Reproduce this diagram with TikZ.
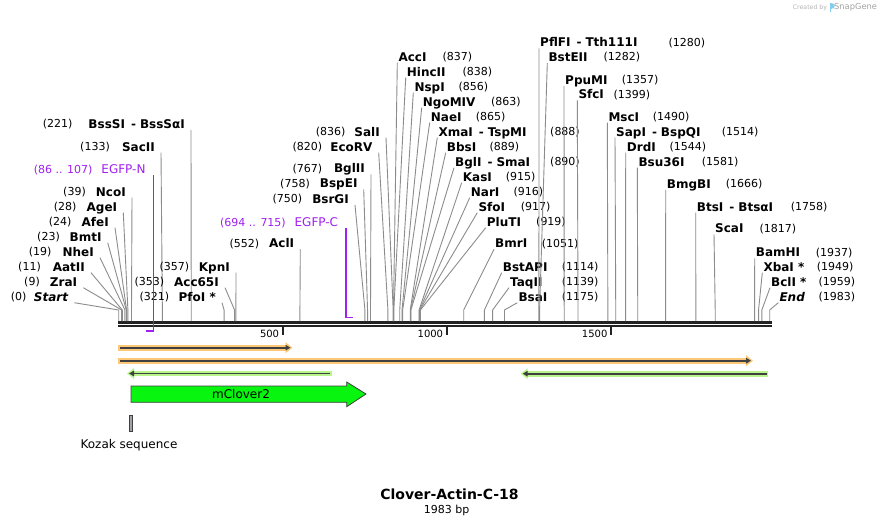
\documentclass[tikz,border=0pt]{standalone}
\usepackage{fontspec}
\setmainfont{DejaVu Sans}
\usetikzlibrary{calc,arrows.meta}
\definecolor{leadgray}{RGB}{140,140,140}
\definecolor{bbgray}{RGB}{34,34,34}
\definecolor{primerpurple}{RGB}{160,32,240}
\definecolor{orangeband}{RGB}{253,200,120}
\definecolor{greenband}{RGB}{184,245,140}
\definecolor{featdark}{RGB}{64,64,64}
\definecolor{clovergreen}{RGB}{8,245,16}
\definecolor{kozakgray}{RGB}{160,162,170}
\definecolor{markgray}{RGB}{180,180,180}
\definecolor{snapblue}{RGB}{130,205,240}
\newcommand\isosep{\hspace{6pt}-\hspace{4pt}}
\begin{document}
\begin{tikzpicture}[x=1pt,y=-1pt]
	\tikzstyle{cut}=[inner sep=0pt,text height=8.7pt,text depth=0pt,font=\fontsize{12}{14}\selectfont\bfseries]
	\tikzstyle{sitepos}=[inner sep=0pt,text height=8pt,text depth=0pt,font=\fontsize{11}{13}\selectfont]
	\tikzstyle{leader}=[draw=leadgray,line width=0.9pt]
	\tikzstyle{bbline}=[draw=bbgray,line width=2.5pt]
	\tikzstyle{scaletick}=[draw=bbgray,line width=1.6pt]
	\tikzstyle{ticklabel}=[inner sep=0pt,text height=7.3pt,text depth=0pt,font=\fontsize{10}{12}\selectfont]
	\tikzstyle{primer}=[draw=primerpurple,line width=1.3pt]
	\tikzstyle{primerlabel}=[inner sep=0pt,text height=8.7pt,text depth=0pt,text=primerpurple,font=\fontsize{12}{14}\selectfont]
	\tikzstyle{band}=[line width=5.7pt,-{Triangle[length=7pt,width=10.5pt]}]
	\tikzstyle{featline}=[draw=featdark,line width=1.7pt,-{Triangle[length=5pt,width=5.5pt]}]
	\useasboundingbox (0,0) rectangle (890,526);
	\fill[white] (0,0) rectangle (890,526);

	% backbone
	\coordinate (bbl) at (118,322.3);
	\coordinate (bbr) at (771.5,322.3);
	\coordinate (bbl2) at (118,326.2);
	\coordinate (bbr2) at (771.5,326.2);
	\draw[bbline] (bbl) -- (bbr);
	\draw[bbline] (bbl2) -- (bbr2);
	\foreach \t/\tx in {500/282.7,1000/446.7,1500/611}{
		\coordinate (tk\t) at (\tx,326.5);
		\draw[scaletick] (tk\t) -- ++(0,8.5);
		\node[ticklabel,anchor=east] (tl\t) at (\tx-3.4,334) {\t};
	}

	% sites, label on the left
	\foreach \nm/\bp/\nx/\px/\ly [count=\i] in {{\itshape Start}/0/68.3/26.7/296.7,ZraI/9/77.3/40/281.7,AatII/11/85/41/266.7,NheI/19/94/51.7/251.7,BmtI/23/101.7/60/236.7,AfeI/24/109/71.7/221.7,AgeI/28/117.3/76.7/206.7,NcoI/39/126/86/191.7,SacII/133/155/110/146.7,BssSI\isosep BssSαI/221/185/72.7/124,PfoI~*/321/216/169.3/296.7,Acc65I/353/219/164.3/281.7,KpnI/357/230/189.3/266.7,AclI/552/294.3/259.3/243.3,BsrGI/750/349/302.3/199,BspEI/758/357.7/310/183.3,BglII/767/365/322.3/168.3,EcoRV/820/372.7/322.3/146.7,SalI/836/380/345.7/131.7}{
		\pgfmathsetmacro\sx{118.7+0.3283*\bp}
		\node[cut,anchor=east] (lc\i) at (\nx,\ly) {\nm};
		\node[sitepos,anchor=east] (lp\i) at (\px,\ly) {(\bp)};
		\coordinate (ls\i) at (\sx,321);
		\draw[leader] ($(lc\i.east)+(6,6)$) -- (\sx,310) -- (ls\i);
	}

	% sites, label on the right
	\foreach \nm/\bp/\nx/\px/\ly [count=\i] in {AccI/837/398.3/442.3/56.7,HincII/838/406.7/462.3/71.7,NspI/856/414.3/458.3/86.7,NgoMIV/863/422.7/491/101.7,NaeI/865/430.7/475.7/116.7,XmaI\isosep TspMI/888/438.3/550/131.7,BbsI/889/446.7/489.3/146.7,BglI\isosep SmaI/890/455/550/161.7,KasI/915/462.7/505.7/176.7,NarI/916/470.7/513.3/191.7,SfoI/917/478.3/520.7/206.7,PluTI/919/486.7/536/221.7,BmrI/1051/495/541.7/243.3,BstAPI/1114/502.7/561.7/266.7,TaqII/1139/510/561.7/281.7,BsaI/1175/518.3/561.7/296.7,PflFI\isosep Tth111I/1280/540/668.3/42.5,BstEII/1282/548.3/603.3/57,PpuMI/1357/565/621.7/80,SfcI/1399/578.3/613.3/94.5,MscI/1490/608.3/652.7/116.7,SapI\isosep BspQI/1514/616/721.7/131.7,DrdI/1544/626.7/669.3/146.7,Bsu36I/1581/638.3/701.7/161.7,BmgBI/1666/666.7/725.7/184,BtsI\isosep BtsαI/1758/696.7/790.7/206.7,ScaI/1817/715/759.3/228.3,BamHI/1937/755.7/815.7/252.3,XbaI~*/1949/763.3/816.7/266.7,BclI~*/1959/771/818.3/281.7,{\itshape End}/1983/779.3/818.3/296.7}{
		\pgfmathsetmacro\sx{118.7+0.3283*\bp}
		\node[cut,anchor=west] (rc\i) at (\nx,\ly) {\nm};
		\node[sitepos,anchor=west] (rp\i) at (\px,\ly) {(\bp)};
		\coordinate (rs\i) at (\sx,321);
		\draw[leader] ($(rc\i.west)+(-1,6)$) -- (\sx,310) -- (rs\i);
	}

	% primers
	\node[primerlabel,anchor=east] (egfpn) at (145.7,169) {EGFP-N};
	\node[primerlabel,anchor=east,font=\fontsize{11}{13}\selectfont] (egfpnpos) at (92.7,169) {(86 .. 107)};
	\coordinate (egfpnend) at (153.3,331);
	\draw[primer] ($(egfpn.east -| egfpnend)+(0,6)$) -- (egfpnend) -- (146,331);
	\node[primerlabel,anchor=east] (egfpc) at (338.3,222.3) {EGFP-C};
	\node[primerlabel,anchor=east,font=\fontsize{11}{13}\selectfont] (egfpcpos) at (286,222.3) {(694 .. 715)};
	\coordinate (egfpcend) at (346,317.3);
	\draw[primer] ($(egfpc.east -| egfpcend)+(0,6)$) -- (egfpcend) -- (352.7,317.3);

	% features
	\coordinate (or1a) at (118,347.7);
	\coordinate (or1b) at (292.5,347.7);
	\draw[band,draw=orangeband,fill=orangeband] (or1a) -- (or1b);
	\draw[featline] ($(or1a)+(1.5,0)$) -- ($(or1b)+(-2,0)$);
	\coordinate (or2a) at (118,360.7);
	\coordinate (or2b) at (753,360.7);
	\draw[band,draw=orangeband,fill=orangeband] (or2a) -- (or2b);
	\draw[featline] ($(or2a)+(1.5,0)$) -- ($(or2b)+(-2,0)$);
	\coordinate (gr1a) at (331.7,373.5);
	\coordinate (gr1b) at (127,373.5);
	\draw[band,draw=greenband,fill=greenband] (gr1a) -- (gr1b);
	\draw[featline] ($(gr1a)+(-1.5,0)$) -- ($(gr1b)+(2,0)$);
	\coordinate (gr2a) at (768,373.7);
	\coordinate (gr2b) at (520.7,373.7);
	\draw[band,draw=greenband,fill=greenband] (gr2a) -- (gr2b);
	\draw[featline] ($(gr2a)+(-1.5,0)$) -- ($(gr2b)+(2,0)$);

	\draw[fill=clovergreen,draw=featdark,line width=0.8pt] (131,386) -- (346.7,386) -- (346.7,382) -- (366,394) -- (346.7,406.7) -- (346.7,402.3) -- (131,402.3) -- cycle;
	\node[font=\fontsize{12}{14}\selectfont,inner sep=0pt] (clover) at (241,394) {mClover2};
	\draw[fill=kozakgray,draw=featdark,line width=0.7pt] (129.3,415.3) rectangle (132.7,431.3);
	\node[font=\fontsize{12}{14}\selectfont,inner sep=0pt] (kozak) at (129,445) {Kozak sequence};

	% title
	\node[font=\fontsize{14}{16}\selectfont\bfseries,inner sep=0pt] (title) at (449.5,494) {Clover-Actin-C-18};
	\node[font=\fontsize{11}{13}\selectfont,inner sep=0pt] (length) at (446.7,510) {1983 bp};

	% watermark
	\node[font=\fontsize{6.2}{7}\selectfont,text=markgray,inner sep=0pt,anchor=west] (created) at (792.7,7.3) {Created by};
	\fill[snapblue] (829.6,2.8) rectangle (831.4,12.2);
	\fill[snapblue] (831.4,2.8) .. controls (836,2.8) and (836,8.8) .. (831.4,8.8) -- cycle;
	\node[font=\fontsize{8.3}{9}\selectfont,text=markgray!90!black,inner sep=0pt,anchor=west] (snap) at (834,7.3) {SnapGene};
\end{tikzpicture}
\end{document}
